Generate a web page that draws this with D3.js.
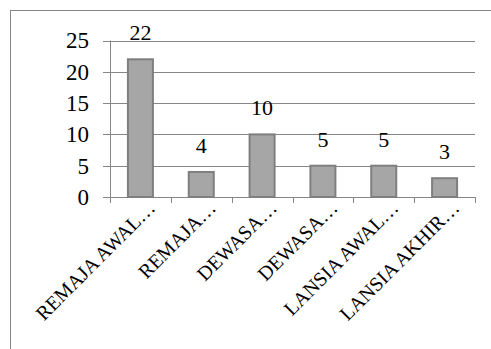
<!DOCTYPE html>
<html>
<head>
<meta charset="utf-8">
<script src="https://cdn.jsdelivr.net/npm/d3@7"></script>
<style>
  html, body { margin: 0; padding: 0; background: #fff; }
  svg { display: block; }
</style>
</head>
<body>
<svg id="chart" width="491" height="349"></svg>
<script>
// Age-group counts
const categories = ["REMAJA AWAL…", "REMAJA…", "DEWASA…", "DEWASA…", "LANSIA AWAL…", "LANSIA AKHIR…"];
const values = [22, 4, 10, 5, 5, 3];
const yTicks = [0, 5, 10, 15, 20, 25];

const FONT = "'Liberation Serif', 'Times New Roman', Times, serif";
const svg = d3.select("#chart");
const plot = { left: 110, right: 475, top: 40.5, bottom: 197 };
const gridColor = "#868686";

// outer chart frame
svg.append("rect")
  .attr("x", 10.5).attr("y", 10.5)
  .attr("width", 500).attr("height", 400)
  .attr("fill", "none").attr("stroke", gridColor).attr("stroke-width", 1);

const x = d3.scaleBand().domain(d3.range(categories.length))
  .range([plot.left, plot.right]).paddingInner(0).paddingOuter(0);
const y = d3.scaleLinear().domain([0, 25]).range([plot.bottom, plot.top]);

// horizontal gridlines with small tick stubs to the left
svg.append("g").selectAll("line").data(yTicks).join("line")
  .attr("x1", plot.left - 7).attr("x2", plot.right)
  .attr("y1", d => Math.round(y(d)) + 0.5).attr("y2", d => Math.round(y(d)) + 0.5)
  .attr("stroke", gridColor).attr("stroke-width", 1);

// y axis line
svg.append("line")
  .attr("x1", plot.left + 0.5).attr("x2", plot.left + 0.5)
  .attr("y1", plot.top).attr("y2", plot.bottom + 5)
  .attr("stroke", gridColor);

// y tick labels
svg.append("g").selectAll("text").data(yTicks).join("text")
  .attr("x", 89).attr("y", d => y(d))
  .attr("dy", "0.34em")
  .attr("text-anchor", "end")
  .attr("font-family", FONT)
  .attr("font-size", 23)
  .text(d => d);

// x category tick marks
const xTickPos = d3.range(categories.length + 1).map(i => plot.left + i * x.bandwidth());
svg.append("g").selectAll("line").data(xTickPos).join("line")
  .attr("x1", d => Math.round(d) + 0.5).attr("x2", d => Math.round(d) + 0.5)
  .attr("y1", plot.bottom).attr("y2", plot.bottom + 6)
  .attr("stroke", gridColor);

// bars
const barW = 25;
svg.append("g").selectAll("rect").data(values).join("rect")
  .attr("x", (d, i) => x(i) + x.bandwidth() / 2 - barW / 2)
  .attr("y", d => y(d))
  .attr("width", barW)
  .attr("height", d => y(0) - y(d))
  .attr("fill", "#a6a6a6")
  .attr("stroke", "#7f7f7f")
  .attr("stroke-width", 2);

// value labels
svg.append("g").selectAll("text").data(values).join("text")
  .attr("x", (d, i) => x(i) + x.bandwidth() / 2)
  .attr("y", d => y(d) - 19)
  .attr("text-anchor", "middle")
  .attr("font-family", FONT)
  .attr("font-size", 22)
  .text(d => d);

// rotated category labels
svg.append("g").selectAll("text").data(categories).join("text")
  .attr("transform", (d, i) => `translate(${x(i) + x.bandwidth() / 2 + 16},${209}) rotate(-45)`)
  .attr("text-anchor", "end")
  .attr("font-family", FONT)
  .attr("font-size", 20)
  .text(d => d);
</script>
</body>
</html>
